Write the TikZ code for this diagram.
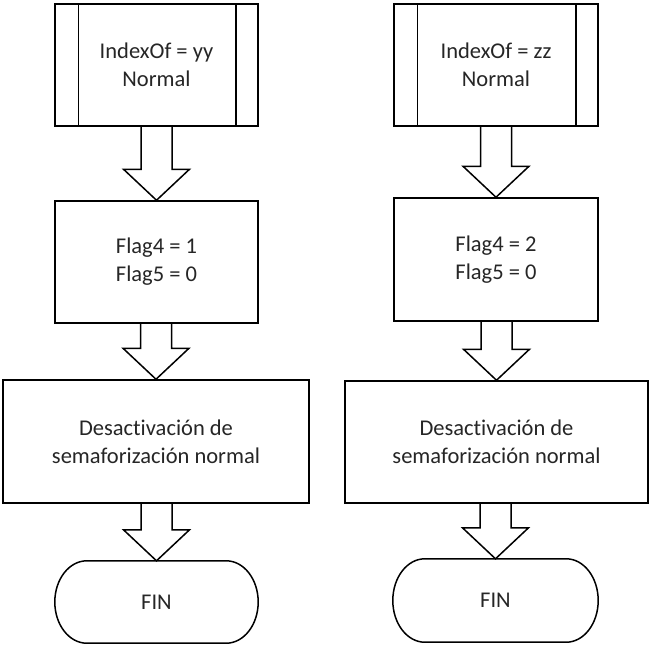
\documentclass[tikz,border=0pt]{standalone}
\usepackage{fontspec}
\setmainfont{Carlito}[Ligatures={NoCommon,NoRare}]
\usetikzlibrary{calc}
\tikzset{
  stepbox/.style={draw=black, line width=1.5pt, fill=white, align=center, inner sep=0pt,
    font=\fontsize{22.5}{28}\selectfont, text=black!85},
  endlabel/.style={inner sep=0pt, align=center, font=\fontsize{22.5}{28}\selectfont, text=black!85},
  outline/.style={draw=black, line width=1.5pt, line join=miter},
}
% hollow block arrow from the bottom of #1 to the top of #2
\newcommand{\hollowarrow}[2]{%
  \draw[outline] let \p1=(#1.south), \p2=(#2.north) in
    (\x2-15.5pt,\y1) -- (\x2-15.5pt,\y2+31pt) -- (\x2-33pt,\y2+31pt) -- (\x2,\y2)
    -- (\x2+33pt,\y2+31pt) -- (\x2+15.5pt,\y2+31pt) -- (\x2+15.5pt,\y1);}
% predefined-process side bars
\newcommand{\sidebars}[1]{%
  \draw[outline] ($(#1.north west)+(24,0)$) -- ($(#1.south west)+(24,0)$);
  \draw[outline] ($(#1.north east)+(-23,0)$) -- ($(#1.south east)+(-23,0)$);}
% terminal outline: straight top and bottom, elliptic ends
\newcommand{\terminal}[1]{%
  \draw[outline] let \p1=(#1.north west), \p2=(#1.south east) in
    (\x1+32pt,\y1) -- (\x2-32pt,\y1)
    arc[start angle=90, end angle=-90, x radius=32pt, y radius={(\y1-\y2)/2}]
    -- (\x1+32pt,\y2)
    arc[start angle=270, end angle=90, x radius=32pt, y radius={(\y1-\y2)/2}] -- cycle;}
\begin{document}
\begin{tikzpicture}[x=1pt,y=-1pt]
\useasboundingbox (0,0) rectangle (649,646);

% left column
\node[stepbox, minimum width=203pt, minimum height=122pt] (lproc) at (156.5,65) {IndexOf = yy\\Normal};
\sidebars{lproc}
\node[stepbox, minimum width=203pt, minimum height=122pt] (lflag) at (156.5,262) {Flag4 = 1\\Flag5 = 0};
\node[stepbox, minimum width=306pt, minimum height=123pt] (ldes) at (156,441.5) {Desactivación de\\semaforización normal};
\node[endlabel, minimum width=203pt, minimum height=82pt] (lfin) at (156.5,602) {};
\terminal{lfin}
\node[endlabel] at (lfin.center) {FIN};
\hollowarrow{lproc}{lflag}
\hollowarrow{lflag}{ldes}
\hollowarrow{ldes}{lfin}

% right column
\node[stepbox, minimum width=204pt, minimum height=122pt] (rproc) at (496,65) {IndexOf = zz\\Normal};
\sidebars{rproc}
\node[stepbox, minimum width=204pt, minimum height=123pt] (rflag) at (496,259.5) {Flag4 = 2\\Flag5 = 0};
\node[stepbox, minimum width=303pt, minimum height=122pt] (rdes) at (496.5,442) {Desactivación de\\semaforización normal};
\node[endlabel, minimum width=205pt, minimum height=83pt] (rfin) at (495.5,600.5) {};
\terminal{rfin}
\node[endlabel] at (rfin.center) {FIN};
\hollowarrow{rproc}{rflag}
\hollowarrow{rflag}{rdes}
\hollowarrow{rdes}{rfin}
\end{tikzpicture}
\end{document}
